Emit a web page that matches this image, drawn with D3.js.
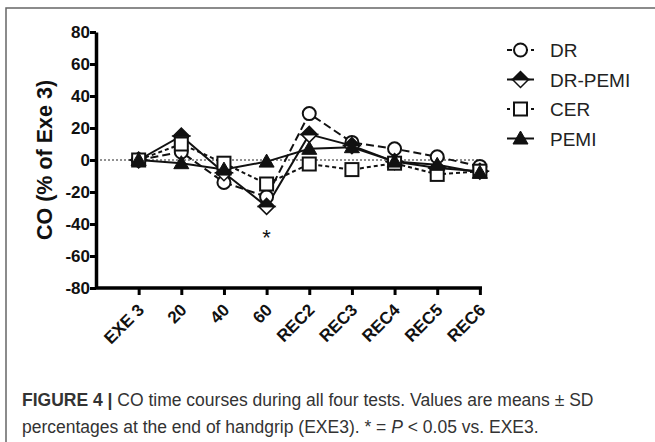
<!DOCTYPE html>
<html>
<head>
<meta charset="utf-8">
<script src="https://cdn.jsdelivr.net/npm/d3@7"></script>
<style>
  body { margin: 0; background: #fff; }
  svg { display: block; font-family: "Liberation Sans", Arial, sans-serif; }
</style>
</head>
<body>
<script>
var categories = ["EXE 3", "20", "40", "60", "REC2", "REC3", "REC4", "REC5", "REC6"];
var yTicks = [-80, -60, -40, -20, 0, 20, 40, 60, 80];

var dr     = [0, 5, -14, -23, 29, 11, 7, 2, -4];
var drPemi = [0, 15, -8, -29, 16, 9, -1, -5, -7];
var cer    = [0, 10, -2, -15, -2.5, -6, -2, -9, -7];
var pemi   = [0, -2, -6, -1, 7, 8, -1, -3, -8];

var seriesNames = ["DR", "DR-PEMI", "CER", "PEMI"];

var margin = {top: 32, right: 173, bottom: 154, left: 96},
    width = 655 - margin.left - margin.right,
    height = 442 - margin.top - margin.bottom;

var svg = d3.select("body").append("svg")
    .attr("width", 655)
    .attr("height", 442);

// frame
svg.append("path")
    .attr("d", "M6,442V8H655")
    .attr("fill", "none")
    .attr("stroke", "#666")
    .attr("stroke-width", 1.5);

var g = svg.append("g")
    .attr("transform", "translate(" + margin.left + "," + margin.top + ")");

var x = d3.scaleLinear()
    .domain([-1, 8.05])
    .range([0, width]);

var y = d3.scaleLinear()
    .domain([-80, 80])
    .range([height, 0]);

// zero reference line
g.append("line")
    .attr("x1", 0).attr("x2", x(8))
    .attr("y1", y(0)).attr("y2", y(0))
    .attr("stroke", "#222")
    .attr("stroke-width", 1)
    .attr("stroke-dasharray", "2,2");

var xAxis = g.append("g")
    .attr("transform", "translate(0," + height + ")")
    .call(d3.axisBottom(x)
        .tickValues(d3.range(categories.length))
        .tickFormat(function(i) { return categories[i]; })
        .tickSize(7).tickSizeOuter(0));
xAxis.select(".domain").attr("stroke-width", 3.5).attr("d", "M0,0H" + width);
xAxis.selectAll(".tick line").attr("stroke-width", 3);
xAxis.selectAll("text")
    .attr("y", 0).attr("x", 0).attr("dy", 0)
    .attr("transform", "translate(6,23) rotate(-45)")
    .style("text-anchor", "end")
    .style("font-size", "17px")
    .style("font-weight", "bold")
    .attr("fill", "#111");

var yAxis = g.append("g")
    .call(d3.axisLeft(y).tickValues(yTicks)
        .tickFormat(function(d) { return String(d); })
        .tickSize(6).tickSizeOuter(0));
yAxis.select(".domain").attr("stroke-width", 3.5);
yAxis.selectAll(".tick line").attr("stroke-width", 3);
yAxis.selectAll("text")
    .attr("x", -6)
    .style("font-size", "17px")
    .style("font-weight", "bold")
    .attr("fill", "#111");

g.append("text")
    .attr("transform", "rotate(-90)")
    .attr("x", -height / 2)
    .attr("y", -44)
    .style("text-anchor", "middle")
    .style("font-size", "21.5px")
    .style("font-weight", "bold")
    .attr("fill", "#111")
    .text("CO (% of Exe 3)");

var series = [
  {name: seriesNames[0], values: dr,     dash: "8,4", marker: "circle"},
  {name: seriesNames[1], values: drPemi, dash: null,  marker: "diamond"},
  {name: seriesNames[2], values: cer,    dash: "4,3", marker: "square"},
  {name: seriesNames[3], values: pemi,   dash: null,  marker: "triangle"}
];

var line = d3.line()
    .x(function(d, i) { return x(i); })
    .y(function(d) { return y(d); });

function drawMarker(sel, type) {
  if (type === "circle") {
    sel.append("circle").attr("r", 6.5)
      .attr("fill", "#fff").attr("stroke", "#111").attr("stroke-width", 2);
  } else if (type === "diamond") {
    sel.append("path").attr("d", "M-8,0L0,8L8,0Z")
      .attr("fill", "#fff").attr("stroke", "#111").attr("stroke-width", 1.5);
    sel.append("path").attr("d", "M-8,0L0,-8L8,0Z")
      .attr("fill", "#111").attr("stroke", "#111").attr("stroke-width", 1.5);
  } else if (type === "square") {
    sel.append("rect").attr("x", -6.5).attr("y", -6.5).attr("width", 13).attr("height", 13)
      .attr("fill", "#fff").attr("stroke", "#111").attr("stroke-width", 2);
  } else {
    sel.append("path").attr("d", "M-7.5,5.5L0,-7.5L7.5,5.5Z")
      .attr("fill", "#111").attr("stroke", "#111").attr("stroke-width", 1);
  }
}

series.forEach(function(s) {
  g.append("path")
    .datum(s.values)
    .attr("d", line)
    .attr("fill", "none")
    .attr("stroke", "#111")
    .attr("stroke-width", 2)
    .attr("stroke-dasharray", s.dash);
});

series.forEach(function(s) {
  g.selectAll(null)
    .data(s.values)
    .enter().append("g")
    .attr("transform", function(d, i) { return "translate(" + x(i) + "," + y(d) + ")"; })
    .each(function() { drawMarker(d3.select(this), s.marker); });
});

// significance marker at 60
g.append("text")
    .attr("x", x(3))
    .attr("y", y(-53))
    .style("text-anchor", "middle")
    .style("font-size", "22px")
    .attr("fill", "#111")
    .text("*");

// legend
var legend = svg.append("g").attr("transform", "translate(507,50)");
series.forEach(function(s, i) {
  var row = legend.append("g").attr("transform", "translate(0," + (i * 29.5) + ")");
  row.append("line")
    .attr("x1", 0).attr("x2", 27).attr("y1", 0).attr("y2", 0)
    .attr("stroke", "#111").attr("stroke-width", 2)
    .attr("stroke-dasharray", s.dash ? (s.marker === "circle" ? "5,3" : "3,3") : null);
  var m = row.append("g").attr("transform", "translate(13.5,0)");
  drawMarker(m, s.marker);
  row.append("text")
    .attr("x", 43).attr("y", 7)
    .style("font-size", "19px")
    .attr("fill", "#222")
    .text(s.name);
});

// caption
var cap = svg.append("g").style("font-size", "17.5px").attr("fill", "#333");
var l1 = cap.append("text").attr("x", 22).attr("y", 406);
l1.append("tspan").style("font-weight", "bold").text("FIGURE 4 |");
l1.append("tspan").text(" CO time courses during all four tests. Values are means \u00b1 SD");
var l2 = cap.append("text").attr("x", 22).attr("y", 433);
l2.append("tspan").text("percentages at the end of handgrip (EXE3). * = ");
l2.append("tspan").style("font-style", "italic").text("P");
l2.append("tspan").text(" < 0.05 vs. EXE3.");
</script>
</body>
</html>
